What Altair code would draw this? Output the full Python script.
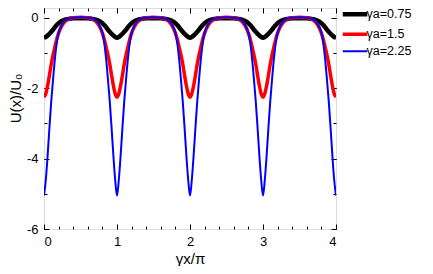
import altair as alt
import pandas as pd

# ---- data ----
series_names = ["γa=0.75", "γa=1.5", "γa=2.25"]
series_colors = ["#000000", "#ff0000", "#0000ff"]
series_widths = [4.5, 3.5, 2.0]

# positions of the wells (minima) along γx/π
well_centers = [0, 1, 2, 3, 4]
# distance from a well's bottom (one half-period, the curves are symmetric)
offsets = [0, 0.025, 0.05, 0.075, 0.1, 0.125, 0.15, 0.175, 0.2, 0.25, 0.3, 0.35, 0.4, 0.5]
# U(x)/U0 read at those offsets
u_075 = [-0.56, -0.54, -0.50, -0.45, -0.39, -0.33, -0.26, -0.20, -0.15, -0.08, -0.04, -0.02, -0.01, -0.01]
u_15 = [-2.25, -2.15, -1.92, -1.62, -1.30, -1.04, -0.82, -0.60, -0.43, -0.20, -0.08, -0.02, 0.01, 0.02]
u_225 = [-5.05, -4.60, -3.90, -3.10, -2.35, -1.72, -1.15, -0.70, -0.42, -0.18, -0.06, -0.01, 0.01, 0.02]

x_major = [0, 1, 2, 3, 4]
x_minor = [0, 0.2, 0.4, 0.6, 0.8, 1, 1.2, 1.4, 1.6, 1.8, 2, 2.2, 2.4, 2.6, 2.8, 3,
           3.2, 3.4, 3.6, 3.8, 4]
y_major = [-6, -4, -2, 0]
y_minor = [-6, -5, -4, -3, -2, -1, 0]

rows = []
for name, prof in zip(series_names, [u_075, u_15, u_225]):
    pts = {}
    for c in well_centers:
        for d, v in zip(offsets, prof):
            for s in (-1, 1):
                x = round(c + s * d, 4)
                if 0 <= x <= 4:
                    pts[x] = v
    for x in sorted(pts):
        rows.append({"series": name, "x": x, "u": pts[x]})
df = pd.DataFrame(rows)

W, H = 292, 221
FONT = "Liberation Sans"
xs = alt.Scale(domain=[0, 4], nice=False, zero=False)
ys = alt.Scale(domain=[-6, 0.284], nice=False, zero=False)

base = alt.Chart(df)

# legend line (custom wide path), labels right after it
legend = alt.Legend(
    title=None, orient="none", legendX=303, legendY=0,
    symbolType="M-3,0H4", symbolSize=49, labelOffset=7,
    labelFontSize=12.5, labelFont=FONT, labelColor="#000", labelLimit=200,
    rowPadding=3, padding=0,
)

main = base.mark_line(interpolate="monotone", clip=True).encode(
    x=alt.X("x:Q", scale=xs, axis=alt.Axis(
        orient="bottom", values=x_major, format="d", ticks=False, domain=False,
        grid=False, labelPadding=6, labelFontSize=13, labelFont=FONT, labelColor="#000",
        title="γx/π", titleFontSize=15, titleFont=FONT, titleFontWeight="normal",
        titleColor="#000", titlePadding=3)),
    y=alt.Y("u:Q", scale=ys, axis=alt.Axis(
        orient="left", values=y_major, labelExpr="datum.value + ''", ticks=False,
        domain=False, grid=False, labelPadding=6, labelFontSize=13, labelFont=FONT,
        labelColor="#000", title="U(x)/U₀", titleFontSize=15, titleFont=FONT,
        titleFontWeight="normal", titleColor="#000", titlePadding=3,
        titleY=90, titleAlign="center")),
    color=alt.Color("series:N", scale=alt.Scale(domain=series_names, range=series_colors),
                    legend=legend),
    strokeWidth=alt.StrokeWidth("series:N",
                                scale=alt.Scale(type="ordinal", domain=series_names,
                                                range=series_widths),
                                legend=legend),
)


def tick_layer(xorient, yorient, xvals, yvals, size):
    return base.mark_point(opacity=0).encode(
        x=alt.X("x:Q", scale=xs, axis=alt.Axis(
            orient=xorient, offset=-H, values=xvals, labels=False, domain=False,
            grid=False, tickSize=size, tickColor="#000", title=None)),
        y=alt.Y("u:Q", scale=ys, axis=alt.Axis(
            orient=yorient, offset=-W, values=yvals, labels=False, domain=False,
            grid=False, tickSize=size, tickColor="#000", title=None)),
    )


chart = alt.layer(
    main,
    tick_layer("top", "right", x_major, y_major, 5),
    tick_layer("top", "right", x_minor, y_minor, 3),
    tick_layer("bottom", "left", x_major, y_major, 5),
    tick_layer("bottom", "left", x_minor, y_minor, 3),
).resolve_axis(x="independent", y="independent").properties(
    width=W, height=H,
    autosize=alt.AutoSizeParams(type="none"),
    padding={"left": 36, "top": 0, "right": 89, "bottom": 37},
).configure_view(stroke="#000", strokeWidth=1.2).configure(background="white")

chart.save("out.html", embed_options={"renderer": "svg", "actions": False})
